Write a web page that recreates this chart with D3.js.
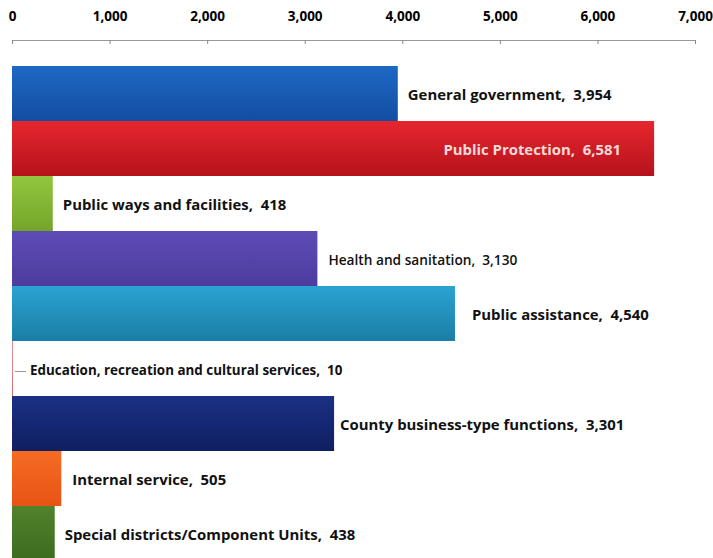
<!DOCTYPE html>
<html><head><meta charset="utf-8">
<script src="https://cdn.jsdelivr.net/npm/d3@7"></script>
<style>body{margin:0;background:#fff}svg{display:block}</style>
</head><body>
<svg id="chart" width="713" height="558"></svg>
<script>
const categories = ["General government","Public Protection","Public ways and facilities","Health and sanitation","Public assistance","Education, recreation and cultural services","County business-type functions","Internal service","Special districts/Component Units"];
const values = [3954, 6581, 418, 3130, 4540, 10, 3301, 505, 438];
const tickValues = [0,1000,2000,3000,4000,5000,6000,7000];
const colorsTop = ["#1e68c4","#e6262e","#92c63e","#5e4cb6","#2ba3d2","#e89090","#1c3084","#f56c24","#52822c"];
const colorsBottom = ["#124ea2","#b5121c","#74a52a","#4d3c9e","#1a7ea6","#d07070","#0f1f62","#e85314","#3d6a1e"];

const svg = d3.select("#chart");
const x = d3.scaleLinear().domain([0,7000]).range([12,695]);
const y = d3.scaleBand().domain(categories).range([66,561]).padding(0);

const defs = svg.append("defs");
categories.forEach((c,i)=>{
  const g = defs.append("linearGradient").attr("id","g"+i).attr("x1",0).attr("x2",0).attr("y1",0).attr("y2",1);
  g.append("stop").attr("offset","0%").attr("stop-color",colorsTop[i]);
  g.append("stop").attr("offset","100%").attr("stop-color",colorsBottom[i]);
});

const axis = d3.axisTop(x).tickValues(tickValues).tickFormat(d3.format(",")).tickSizeInner(-4).tickSizeOuter(0).tickPadding(19);
const ax = svg.append("g").attr("transform","translate(0,40)").call(axis);
ax.select(".domain").attr("stroke","#999");
ax.selectAll(".tick line").attr("stroke","#888");
ax.selectAll(".tick text").attr("fill","#000").style("font-family","'Open Sans',sans-serif").style("font-weight","bold").style("font-size","13.5px");

svg.selectAll("rect.bar").data(values).enter().append("rect").attr("class","bar")
  .attr("x",x(0)).attr("y",(d,i)=>y(categories[i]))
  .attr("width",d=>Math.max(1,x(d)-x(0))).attr("height",y.bandwidth())
  .attr("fill",(d,i)=>`url(#g${i})`);

// label styling (not data)
const labelOffsets = [10, -33, 10, 11, 17, 17, 6, 11, 10];
const labelSizes = [14.9, 14.9, 14.9, 13.7, 14.9, 13.4, 14.9, 14.9, 14.9];
svg.selectAll("text.lbl").data(values).enter().append("text").attr("class","lbl")
  .attr("x",(d,i)=> x(d) + labelOffsets[i])
  .attr("y",(d,i)=> y(categories[i]) + y.bandwidth()/2 + 3)
  .attr("dominant-baseline","middle")
  .attr("text-anchor",(d,i)=> i===1 ? "end" : "start")
  .attr("fill",(d,i)=> i===1 ? "#f6dada" : "#111")
  .style("font-family","'Open Sans',sans-serif")
  .style("font-weight",(d,i)=> i===3 ? "600" : "bold")
  .style("font-size",(d,i)=> labelSizes[i] + "px")
  .attr("xml:space","preserve")
  .text((d,i)=> categories[i] + ",  " + d3.format(",")(d));

// leader line for tiny bar
const ei = 5;
svg.append("line").attr("x1",x(values[ei])+2).attr("x2",x(values[ei])+13)
  .attr("y1",y(categories[ei])+y.bandwidth()/2+3).attr("y2",y(categories[ei])+y.bandwidth()/2+3)
  .attr("stroke","#999").attr("stroke-width",1);
</script>
</body></html>
